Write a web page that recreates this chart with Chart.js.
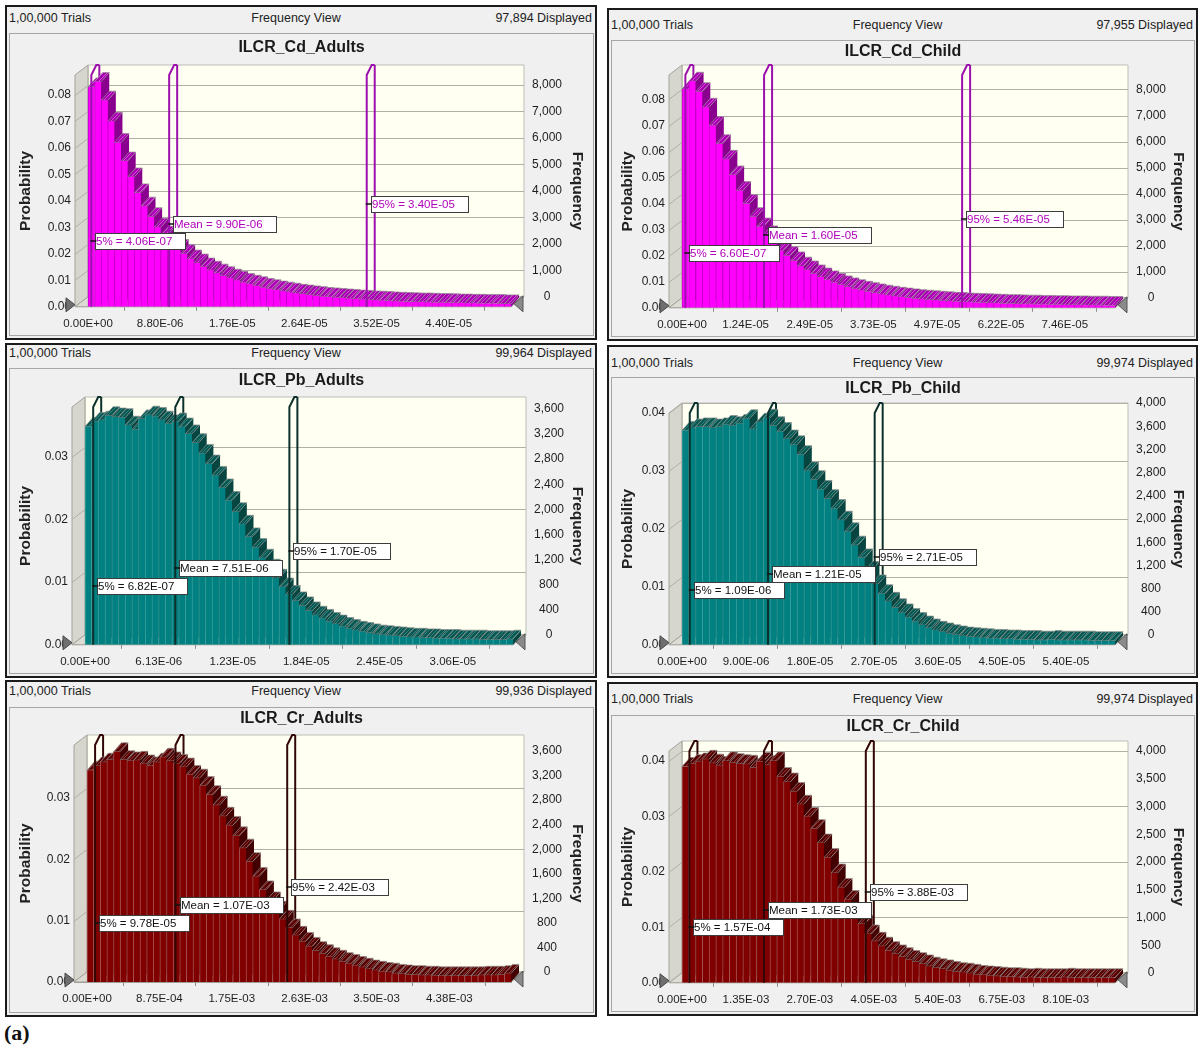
<!DOCTYPE html>
<html>
<head>
<meta charset="utf-8">
<title>ILCR frequency views</title>
<script src="https://cdn.jsdelivr.net/npm/chart.js@4.4.1/dist/chart.umd.min.js"></script>
<style>
  html, body { margin: 0; padding: 0; background: #fff; }
  body { width: 1201px; height: 1049px; position: relative; overflow: hidden;
         font-family: 'Liberation Sans', Arial, sans-serif; }
  .frame { position: absolute; box-sizing: border-box; border: 2px solid #1b1b1b; background: #f0f0f0; }
  .hdr { position: absolute; font-size: 12.5px; line-height: 14px; color: #222; white-space: nowrap; }
  .box { position: absolute; box-sizing: border-box; border: 1px solid #a6a6a6; background: #f0f0f0; }
  canvas { position: absolute; }
  #tag { position: absolute; left: 4px; top: 1020px; font: bold 22px 'Liberation Serif', 'DejaVu Serif', serif; color: #111; }
</style>
</head>
<body>
<div id="tag">(a)</div>
<script>
// Probability of each bin (64 bins per forecast)
const cdAdultsProb = [
  0.083, 0.085, 0.078, 0.070, 0.062, 0.055, 0.049, 0.043, 0.038, 0.034,
  0.030, 0.027, 0.024, 0.022, 0.020, 0.018, 0.0165, 0.015, 0.0138, 0.0127,
  0.0117, 0.0108, 0.0100, 0.0092, 0.0085, 0.0079, 0.0073, 0.0068, 0.0063, 0.0059,
  0.0055, 0.0051, 0.0048, 0.0045, 0.0042, 0.0039, 0.0037, 0.0035, 0.0033, 0.0031,
  0.0029, 0.0028, 0.0026, 0.0025, 0.0024, 0.0022, 0.0021, 0.0020, 0.0019, 0.0018,
  0.0018, 0.0017, 0.0016, 0.0016, 0.0015, 0.0014, 0.0014, 0.0013, 0.0013, 0.0012,
  0.0012, 0.0012, 0.0011, 0.0011
];
const cdChildProb = [
  0.084, 0.087, 0.083, 0.077, 0.070, 0.063, 0.057, 0.051, 0.045, 0.040,
  0.035, 0.031, 0.028, 0.025, 0.022, 0.020, 0.018, 0.016, 0.0145, 0.013,
  0.0118, 0.0107, 0.0097, 0.0088, 0.0080, 0.0073, 0.0067, 0.0062, 0.0057, 0.0052,
  0.0048, 0.0044, 0.0041, 0.0038, 0.0035, 0.0033, 0.0031, 0.0029, 0.0027, 0.0025,
  0.0024, 0.0022, 0.0021, 0.0020, 0.0019, 0.0018, 0.0017, 0.0016, 0.0016, 0.0015,
  0.0014, 0.0014, 0.0013, 0.0013, 0.0012, 0.0012, 0.0011, 0.0011, 0.0011, 0.0010,
  0.0010, 0.0010, 0.0009, 0.0009
];
const pbAdultsProb = [
  0.0348, 0.0356, 0.0358, 0.0365, 0.0363, 0.0362, 0.0350, 0.0343, 0.0360, 0.0366,
  0.0364, 0.0358, 0.0352, 0.0355, 0.0347, 0.0336, 0.0322, 0.0305, 0.0288, 0.0270,
  0.0250, 0.0230, 0.0212, 0.0192, 0.0172, 0.0155, 0.0138, 0.0122, 0.0106, 0.0092,
  0.0080, 0.0070, 0.0062, 0.0054, 0.0047, 0.0042, 0.0037, 0.0033, 0.0029, 0.0026,
  0.0023, 0.0021, 0.0019, 0.0017, 0.0016, 0.0015, 0.0014, 0.0013, 0.0012, 0.0012,
  0.0011, 0.0011, 0.0010, 0.0010, 0.0010, 0.0009, 0.0009, 0.0009, 0.0009, 0.0008,
  0.0008, 0.0008, 0.0008, 0.0009
];
const pbChildProb = [
  0.0370, 0.0374, 0.0376, 0.0376, 0.0374, 0.0376, 0.0380, 0.0378, 0.0382, 0.0390,
  0.0372, 0.0384, 0.0391, 0.0378, 0.0368, 0.0355, 0.0345, 0.0328, 0.0300, 0.0285,
  0.0268, 0.0252, 0.0235, 0.0215, 0.0195, 0.0172, 0.0150, 0.0128, 0.0105, 0.0088,
  0.0075, 0.0064, 0.0055, 0.0047, 0.0040, 0.0034, 0.0029, 0.0025, 0.0022, 0.0019,
  0.0017, 0.0015, 0.0014, 0.0013, 0.0012, 0.0011, 0.0011, 0.0010, 0.0010, 0.0009,
  0.0009, 0.0009, 0.0008, 0.0008, 0.0009, 0.0008, 0.0008, 0.0008, 0.0008, 0.0008,
  0.0007, 0.0007, 0.0007, 0.0007
];
const crAdultsProb = [
  0.0345, 0.0352, 0.0358, 0.0362, 0.0375, 0.0362, 0.0360, 0.0361, 0.0355, 0.0352,
  0.0358, 0.0366, 0.0360, 0.0356, 0.0350, 0.0338, 0.0332, 0.0320, 0.0305, 0.0288,
  0.0270, 0.0255, 0.0238, 0.0218, 0.0196, 0.0172, 0.0150, 0.0132, 0.0117, 0.0102,
  0.0088, 0.0076, 0.0066, 0.0058, 0.0051, 0.0046, 0.0041, 0.0037, 0.0033, 0.0030,
  0.0027, 0.0024, 0.0021, 0.0019, 0.0017, 0.0016, 0.0014, 0.0013, 0.0012, 0.0012,
  0.0011, 0.0011, 0.0010, 0.0010, 0.0010, 0.0010, 0.0010, 0.0010, 0.0010, 0.0011,
  0.0011, 0.0011, 0.0012, 0.0014
];
const crChildProb = [
  0.0390, 0.0395, 0.0398, 0.0403, 0.0396, 0.0392, 0.0400, 0.0397, 0.0395, 0.0394,
  0.0388, 0.0399, 0.0393, 0.0400, 0.0372, 0.0362, 0.0345, 0.0322, 0.0300, 0.0278,
  0.0252, 0.0226, 0.0198, 0.0172, 0.0150, 0.0128, 0.0106, 0.0088, 0.0075, 0.0066,
  0.0058, 0.0052, 0.0047, 0.0042, 0.0038, 0.0034, 0.0030, 0.0027, 0.0025, 0.0022,
  0.0020, 0.0019, 0.0017, 0.0015, 0.0014, 0.0013, 0.0012, 0.0011, 0.0011, 0.0010,
  0.0009, 0.0010, 0.0009, 0.0009, 0.0009, 0.0009, 0.0010, 0.0009, 0.0009, 0.0009,
  0.0009, 0.0009, 0.0009, 0.0009
];

// Upper edge of the last bin
const cdAdultsRange = 5.16e-5;
const cdChildRange = 8.44e-5;
const pbAdultsRange = 3.56e-5;
const pbChildRange = 6.09e-5;
const crAdultsRange = 5.125e-3;
const crChildRange = 9.14e-3;

// Certainty markers: 5th percentile, mean, 95th percentile
const cdAdultsMarkers = [4.06e-7, 9.90e-6, 3.40e-5];
const cdChildMarkers = [6.60e-7, 1.60e-5, 5.46e-5];
const pbAdultsMarkers = [6.82e-7, 7.51e-6, 1.70e-5];
const pbChildMarkers = [1.09e-6, 1.21e-5, 2.71e-5];
const crAdultsMarkers = [9.78e-5, 1.07e-3, 2.42e-3];
const crChildMarkers = [1.57e-4, 1.73e-3, 3.88e-3];

// X axis tick labels
const cdAdultsTicks = [0, 8.80e-6, 1.76e-5, 2.64e-5, 3.52e-5, 4.40e-5];
const cdChildTicks = [0, 1.24e-5, 2.49e-5, 3.73e-5, 4.97e-5, 6.22e-5, 7.46e-5];
const pbAdultsTicks = [0, 6.13e-6, 1.23e-5, 1.84e-5, 2.45e-5, 3.06e-5];
const pbChildTicks = [0, 9.00e-6, 1.80e-5, 2.70e-5, 3.60e-5, 4.50e-5, 5.40e-5];
const crAdultsTicks = [0, 8.75e-4, 1.75e-3, 2.63e-3, 3.50e-3, 4.38e-3];
const crChildTicks = [0, 1.35e-3, 2.70e-3, 4.05e-3, 5.40e-3, 6.75e-3, 8.10e-3];

// Frequency axis tick labels
const cdFreqTicks = [0, 1000, 2000, 3000, 4000, 5000, 6000, 7000, 8000];
const pbAdultsFreqTicks = [0, 400, 800, 1200, 1600, 2000, 2400, 2800, 3200, 3600];
const pbChildFreqTicks = [0, 400, 800, 1200, 1600, 2000, 2400, 2800, 3200, 3600, 4000];
const crAdultsFreqTicks = [0, 400, 800, 1200, 1600, 2000, 2400, 2800, 3200, 3600];
const crChildFreqTicks = [0, 500, 1000, 1500, 2000, 2500, 3000, 3500, 4000];

// Header counts
const trialsText = '1,00,000 Trials';
const displayedCounts = ['97,894', '97,955', '99,964', '99,974', '99,936', '99,974'];

const TRIALS = 100000;
const WALL_DX = 13, WALL_DY = 10;   // depth of the walls and floor
const BAR_DX = 8, BAR_DY = 9;       // depth of each bar
const MARK_DX = 8;                  // depth of the marker slabs
const MARKER_NAMES = ['5%', 'Mean', '95%'];
const FONT = "'Liberation Sans', Arial, sans-serif";

const themes = {
  cd: { front: '#ff00ff', edge: '#c800c8', top: '#a800b0', hatch: '#d848dc', side: '#8a008e',
        marker: '#9c10ad', text: '#b000b8' },
  pb: { front: '#008080', edge: '#3a9e9b', top: '#0a5752', hatch: '#2e857f', side: '#074540',
        marker: '#0c302c', text: '#111111' },
  cr: { front: '#800000', edge: '#a65252', top: '#560303', hatch: '#8c3535', side: '#420000',
        marker: '#330606', text: '#111111' }
};

// Page layout of each panel (frame = left, top, right, bottom; plot = front plane L, R, T, B)
const panels = [
  { title: 'ILCR_Cd_Adults', prob: cdAdultsProb, range: cdAdultsRange, markers: cdAdultsMarkers,
    ticks: cdAdultsTicks, freqTicks: cdFreqTicks, displayed: displayedCounts[0], theme: themes.cd,
    frame: [5, 5, 597, 340], headY: 18, sep: 33, titleY: 47, plot: [75, 511, 75, 307],
    yMax: 0.0875, labelAt: [0.0249, 0.0313, 0.0389] },
  { title: 'ILCR_Cd_Child', prob: cdChildProb, range: cdChildRange, markers: cdChildMarkers,
    ticks: cdChildTicks, freqTicks: cdFreqTicks, displayed: displayedCounts[1], theme: themes.cd,
    frame: [607, 8, 1198, 341], headY: 25, sep: 40, titleY: 51, plot: [669, 1115, 75, 312],
    yMax: 0.0894, labelAt: [0.0212, 0.0278, 0.0341] },
  { title: 'ILCR_Pb_Adults', prob: pbAdultsProb, range: pbAdultsRange, markers: pbAdultsMarkers,
    ticks: pbAdultsTicks, freqTicks: pbAdultsFreqTicks, displayed: displayedCounts[2], theme: themes.pb,
    frame: [5, 343, 597, 678], headY: 353, sep: 368, titleY: 380, plot: [72, 513, 407, 646],
    yMax: 0.0379, labelAt: [0.0094, 0.0122, 0.0149] },
  { title: 'ILCR_Pb_Child', prob: pbChildProb, range: pbChildRange, markers: pbChildMarkers,
    ticks: pbChildTicks, freqTicks: pbChildFreqTicks, displayed: displayedCounts[3], theme: themes.pb,
    frame: [607, 345, 1198, 678], headY: 363, sep: 377, titleY: 388, plot: [669, 1115, 413, 648],
    yMax: 0.0400, labelAt: [0.0094, 0.0123, 0.0151] },
  { title: 'ILCR_Cr_Adults', prob: crAdultsProb, range: crAdultsRange, markers: crAdultsMarkers,
    ticks: crAdultsTicks, freqTicks: crAdultsFreqTicks, displayed: displayedCounts[4], theme: themes.cr,
    frame: [5, 680, 597, 1017], headY: 691, sep: 707, titleY: 718, plot: [74, 511, 745, 982],
    yMax: 0.0386, labelAt: [0.0096, 0.0125, 0.0155] },
  { title: 'ILCR_Cr_Child', prob: crChildProb, range: crChildRange, markers: crChildMarkers,
    ticks: crChildTicks, freqTicks: crChildFreqTicks, displayed: displayedCounts[5], theme: themes.cr,
    frame: [607, 682, 1198, 1016], headY: 699, sep: 715, titleY: 726, plot: [669, 1115, 751, 986],
    yMax: 0.0418, labelAt: [0.0101, 0.0132, 0.0163] }
];

// 8.80E-06 style labels
function sci(v) {
  if (v === 0) return '0.00E+00';
  let exp = Math.floor(Math.log10(Math.abs(v)));
  let mant = (v / Math.pow(10, exp)).toFixed(2);
  if (mant === '10.00') { mant = '1.00'; exp += 1; }
  return mant + 'E' + (exp < 0 ? '-' : '+') + String(Math.abs(exp)).padStart(2, '0');
}

function polygon(ctx, pts, fill, stroke) {
  ctx.beginPath();
  pts.forEach(([px, py], i) => (i ? ctx.lineTo(px, py) : ctx.moveTo(px, py)));
  ctx.closePath();
  if (fill) { ctx.fillStyle = fill; ctx.fill(); }
  if (stroke) { ctx.strokeStyle = stroke; ctx.stroke(); }
}

function line(ctx, x1, y1, x2, y2) {
  ctx.beginPath();
  ctx.moveTo(x1, y1);
  ctx.lineTo(x2, y2);
  ctx.stroke();
}

function makeHatch(ctx, base, stripe) {
  const tile = document.createElement('canvas');
  tile.width = 4; tile.height = 4;
  const g = tile.getContext('2d');
  g.fillStyle = base;
  g.fillRect(0, 0, 4, 4);
  g.strokeStyle = stripe;
  g.lineWidth = 1;
  g.beginPath(); g.moveTo(0, 4); g.lineTo(4, 0); g.stroke();
  return ctx.createPattern(tile, 'repeat');
}

// Crystal Ball style 3D walls, bar depth and certainty markers
const crystalBall = {
  id: 'crystalBall',

  beforeDatasetsDraw(chart, args, opts) {
    const { ctx, chartArea: a } = chart;
    const xs = chart.scales.x, ys = chart.scales.y;
    const th = opts.theme;
    ctx.save();
    ctx.lineWidth = 1;

    // back wall, left wall, floor
    polygon(ctx, [[a.left + WALL_DX, a.top - WALL_DY], [a.right + WALL_DX, a.top - WALL_DY],
      [a.right + WALL_DX, a.bottom - WALL_DY], [a.left + WALL_DX, a.bottom - WALL_DY]], '#fffff2', '#bdbdb5');
    polygon(ctx, [[a.left, a.top], [a.left + WALL_DX, a.top - WALL_DY],
      [a.left + WALL_DX, a.bottom - WALL_DY], [a.left, a.bottom]], '#d6d6ce', '#a2a29a');
    polygon(ctx, [[a.left, a.bottom], [a.left + WALL_DX, a.bottom - WALL_DY],
      [a.right + WALL_DX, a.bottom - WALL_DY], [a.right, a.bottom]], '#dcdcd4', '#a2a29a');

    // grid lines follow the probability ticks
    ctx.strokeStyle = '#b0b0a8';
    ys.ticks.forEach(t => {
      if (t.value <= 0) return;
      const py = Math.round(ys.getPixelForValue(t.value)) + 0.5;
      line(ctx, a.left, py, a.left + WALL_DX, py - WALL_DY);
      line(ctx, a.left + WALL_DX, py - WALL_DY, a.right + WALL_DX, py - WALL_DY);
    });

    // back edge of each marker slab, hidden by the bars
    ctx.strokeStyle = th.marker;
    ctx.lineWidth = 2;
    opts.markers.forEach(v => {
      const px = xs.getPixelForValue(v) + MARK_DX;
      line(ctx, px, a.top - WALL_DY, px, a.bottom - WALL_DY);
    });

    // tops and right sides of the bars, fronts are drawn by Chart.js afterwards
    if (!chart.$hatch) chart.$hatch = makeHatch(ctx, th.top, th.hatch);
    ctx.lineWidth = 1;
    chart.getDatasetMeta(0).data.forEach(bar => {
      const p = bar.getProps(['x', 'y', 'base', 'width'], true);
      const l = p.x - p.width / 2, r = p.x + p.width / 2;
      polygon(ctx, [[r, p.y], [r + BAR_DX, p.y - BAR_DY], [r + BAR_DX, p.base - BAR_DY], [r, p.base]], th.side, null);
      polygon(ctx, [[l, p.y], [r, p.y], [r + BAR_DX, p.y - BAR_DY], [l + BAR_DX, p.y - BAR_DY]],
        chart.$hatch, 'rgba(140,140,140,0.7)');
    });
    ctx.restore();
  },

  afterDatasetsDraw(chart, args, opts) {
    const { ctx, chartArea: a } = chart;
    const xs = chart.scales.x, ys = chart.scales.y;
    const th = opts.theme;
    ctx.save();

    // front edge and top of each marker slab
    ctx.strokeStyle = th.marker;
    ctx.lineWidth = 2;
    opts.markers.forEach(v => {
      const px = xs.getPixelForValue(v);
      ctx.beginPath();
      ctx.moveTo(px, a.bottom);
      ctx.lineTo(px, a.top);
      ctx.lineTo(px + MARK_DX - 3, a.top - WALL_DY);
      ctx.lineTo(px + MARK_DX, a.top - WALL_DY);
      ctx.stroke();
    });

    // value boxes
    ctx.font = '11.5px ' + FONT;
    ctx.textBaseline = 'middle';
    opts.markers.forEach((v, i) => {
      const px = xs.getPixelForValue(v);
      const py = Math.round(ys.getPixelForValue(opts.labelAt[i]));
      const text = MARKER_NAMES[i] + ' = ' + sci(v);
      const w = Math.round(ctx.measureText(text).width) + 14;
      const bx = Math.round(px + 4);
      ctx.fillStyle = '#ffffff';
      ctx.fillRect(bx, py - 8, w, 16);
      ctx.strokeStyle = '#3c3c3c';
      ctx.lineWidth = 1;
      ctx.strokeRect(bx + 0.5, py - 7.5, w, 16);
      ctx.fillStyle = th.text;
      ctx.fillText(text, bx + 1, py + 1);
      ctx.strokeStyle = '#111';
      ctx.lineWidth = 1.5;
      line(ctx, px - 1, py, px + 5, py);
    });
    ctx.restore();
  },

  afterDraw(chart) {
    const { ctx, chartArea: a } = chart;
    ctx.save();
    ctx.lineWidth = 1;
    polygon(ctx, [[a.left, a.bottom - 2], [a.left - 9, a.bottom - 9], [a.left - 9, a.bottom + 5]], '#6f6f6f', '#4a4a4a');
    polygon(ctx, [[a.right + 3, a.bottom - 3], [a.right + 12, a.bottom - 11], [a.right + 12, a.bottom + 5]], '#8a8a8a', '#555555');
    ctx.restore();
  }
};

Chart.defaults.font.family = FONT;
Chart.defaults.color = '#1e1e1e';

function addDiv(cls, left, top, width, height) {
  const d = document.createElement('div');
  d.className = cls;
  Object.assign(d.style, { left: left + 'px', top: top + 'px', width: width + 'px', height: height + 'px' });
  document.body.appendChild(d);
  return d;
}

function addHeader(text, x, y, align) {
  const s = document.createElement('div');
  s.className = 'hdr';
  s.textContent = text;
  s.style.top = (y - 7) + 'px';
  if (align === 'left') s.style.left = x + 'px';
  if (align === 'right') s.style.right = (1201 - x) + 'px';
  if (align === 'center') { s.style.left = x + 'px'; s.style.transform = 'translateX(-50%)'; }
  document.body.appendChild(s);
}

function buildPanel(p) {
  const [fl, ft, fr, fb] = p.frame;
  const [L, R, T, B] = p.plot;

  addDiv('frame', fl, ft, fr - fl, fb - ft);
  addDiv('box', fl + 4, p.sep, fr - 3 - (fl + 4), fb - 4 - p.sep);
  addHeader(trialsText, fl + 4, p.headY, 'left');
  addHeader('Frequency View', (fl + fr) / 2 - 5, p.headY, 'center');
  addHeader(p.displayed + ' Displayed', fr - 5, p.headY, 'right');

  // canvas sits inside the chart box
  const cx0 = fl + 5, cy0 = p.sep + 1, cx1 = fr - 4, cy1 = fb - 5;
  const canvas = document.createElement('canvas');
  canvas.width = cx1 - cx0;
  canvas.height = cy1 - cy0;
  canvas.style.left = cx0 + 'px';
  canvas.style.top = cy0 + 'px';
  document.body.appendChild(canvas);

  const binWidth = p.range / p.prob.length;
  const pxPerUnit = (R - L - WALL_DX) / p.range;
  const xMin = -WALL_DX / pxPerUnit;
  const freqSpan = p.yMax * TRIALS;
  const freqMin = -WALL_DY / (B - T) * freqSpan;
  const titleLine = 16 * 1.2;
  const titleTop = Math.max(0, p.titleY - cy0 - titleLine / 2);
  const titleBottom = (T - cy0) - titleTop - titleLine;
  const tickFont = { size: 12 };

  new Chart(canvas, {
    type: 'bar',
    data: {
      datasets: [{
        data: p.prob.map((v, i) => ({ x: (i + 0.5) * binWidth, y: v })),
        backgroundColor: p.theme.front,
        borderColor: p.theme.edge,
        borderWidth: { left: 1, right: 0, top: 0, bottom: 0 },
        borderSkipped: false,
        categoryPercentage: 1,
        barPercentage: 1
      }]
    },
    options: {
      responsive: false,
      animation: false,
      devicePixelRatio: 1,
      layout: { padding: 0 },
      plugins: {
        legend: { display: false },
        tooltip: { enabled: false },
        title: {
          display: true,
          text: p.title,
          color: '#1a1a1a',
          font: { size: 16, weight: 'bold' },
          padding: { top: titleTop + 1, bottom: titleBottom - 1 }
        },
        crystalBall: { theme: p.theme, markers: p.markers, labelAt: p.labelAt }
      },
      scales: {
        x: {
          type: 'linear',
          min: xMin,
          max: p.range,
          offset: false,
          afterBuildTicks: s => { s.ticks = p.ticks.map(v => ({ value: v })); },
          afterFit: s => { s.height = cy1 - B; },
          ticks: { callback: v => sci(v), autoSkip: false, maxRotation: 0, font: { size: 11.5 }, padding: 6, color: '#1e1e1e' },
          grid: { drawOnChartArea: false, drawTicks: true, tickLength: 4, color: '#8c8c8c' },
          border: { display: true, color: '#9a9a92' }
        },
        y: {
          position: 'left',
          min: 0,
          max: p.yMax,
          afterFit: s => { s.width = L - cx0; },
          ticks: { stepSize: 0.01, includeBounds: false, callback: v => v.toFixed(2), padding: 4, font: tickFont },
          grid: { display: false, drawTicks: false },
          border: { display: false },
          title: { display: true, text: 'Probability', color: '#222', font: { size: 15.5, weight: 'bold' }, padding: { top: 6, bottom: 0 } }
        },
        y2: {
          position: 'right',
          min: freqMin,
          max: freqMin + freqSpan,
          afterBuildTicks: s => { s.ticks = p.freqTicks.map(v => ({ value: v })); },
          afterFit: s => { s.width = cx1 - R; },
          ticks: { autoSkip: false, callback: v => v.toLocaleString('en-US'), crossAlign: 'center', padding: 21, font: tickFont },
          grid: { display: false, drawTicks: false },
          border: { display: false },
          title: { display: true, text: 'Frequency', color: '#222', font: { size: 15.5, weight: 'bold' }, padding: { top: 6, bottom: 0 } }
        }
      }
    },
    plugins: [crystalBall]
  });
}

panels.forEach(buildPanel);
</script>
</body>
</html>
